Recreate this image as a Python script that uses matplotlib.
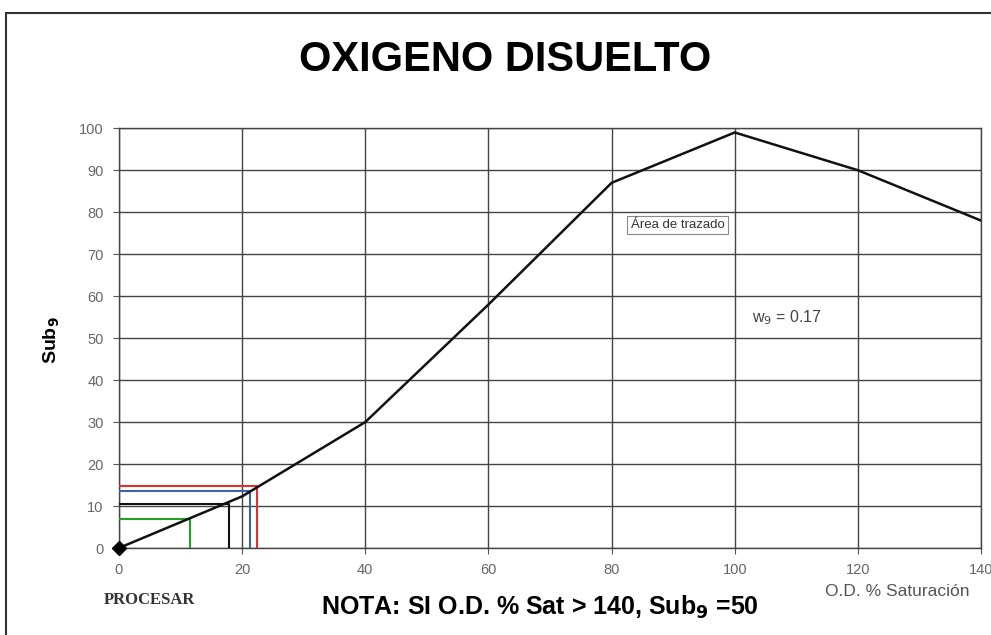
import matplotlib
matplotlib.use("Agg")
import matplotlib.pyplot as plt

# curve Sub9 vs % saturation of dissolved oxygen
od_sat = [0, 20, 40, 60, 80, 100, 120, 140]
sub9 = [0, 12.3, 30, 58, 87, 99, 90, 78]

# reading lines (x, y) drawn from the axes to the curve
ref_x = [11.5, 17.9, 21.3, 22.4]
ref_y = [6.8, 10.6, 13.6, 14.7]
ref_colors = ["#22a022", "#111111", "#3a64a8", "#e03030"]

xticks = [0, 20, 40, 60, 80, 100, 120, 140]
yticks = list(range(0, 101, 10))

plt.rcParams["font.family"] = ["Liberation Sans", "DejaVu Sans"]

fig = plt.figure(figsize=(9.91, 6.35), dpi=100)
ax = fig.add_axes([0.120, 0.137, 0.870, 0.661])

# outer chart frame
fig.patches.append(plt.Rectangle((0.006, -0.01), 1.1, 0.99, transform=fig.transFigure,
                                 fill=False, edgecolor="#333333", linewidth=1.5))

ax.set_xlim(0, 140)
ax.set_ylim(0, 100)
ax.set_xticks(xticks)
ax.set_yticks(yticks)
ax.grid(True, color="#444444", linewidth=1.0)
ax.tick_params(colors="#555555", labelsize=10.5, length=4, pad=7)
for lbl in ax.get_xticklabels() + ax.get_yticklabels():
    lbl.set_color("#666666")
for s in ax.spines.values():
    s.set_color("#444444")
    s.set_linewidth(1.0)

for x, y, c in zip(ref_x, ref_y, ref_colors):
    ax.plot([0, x, x], [y, y, 0], color=c, linewidth=1.5, zorder=3)

ax.plot(od_sat, sub9, color="#111111", linewidth=1.8, zorder=4)
ax.plot([0], [0], marker="D", color="black", markersize=7, zorder=5, clip_on=False)

fig.text(0.51, 0.905, "OXIGENO DISUELTO", ha="center", va="center",
         fontsize=30, fontweight="bold")
fig.text(0.052, 0.465, "Sub$_{\\mathbf{9}}$", rotation=90, ha="center", va="center",
         fontsize=14, fontweight="bold")
ax.text(90.7, 77, "Área de trazado", fontsize=9.5, color="#333333", ha="center", va="center",
        bbox=dict(boxstyle="square,pad=0.25", facecolor="white", edgecolor="#888888", linewidth=0.8))
ax.text(102.8, 54.8, "w$_9$ = 0.17", fontsize=11.5, color="#444444", ha="left", va="center")
fig.text(0.905, 0.068, "O.D. % Saturación", fontsize=12.5, color="#555555", ha="center", va="center")
fig.text(0.151, 0.055, "PROCESAR", fontsize=12, fontweight="bold", color="#333333",
         family=["Liberation Serif", "DejaVu Serif"], ha="center", va="center")
fig.text(0.545, 0.044, "NOTA: SI O.D. % Sat > 140, Sub$_{\\mathbf{9}}$ =50", fontsize=18,
         fontweight="bold", ha="center", va="center")

fig.savefig("out.png", dpi=100)
plt.close(fig)
